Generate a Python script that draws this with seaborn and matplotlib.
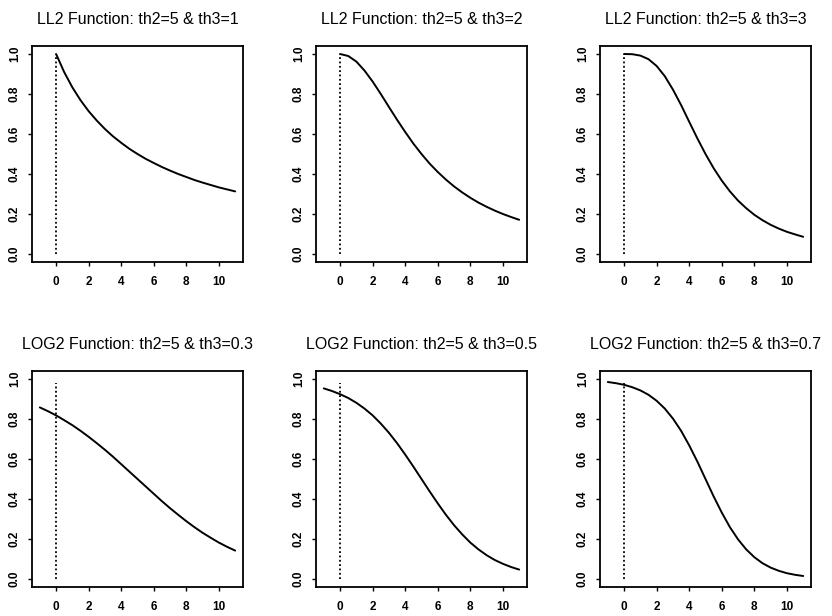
import matplotlib
matplotlib.use("Agg")
import matplotlib.pyplot as plt
import seaborn as sns

# x grids
x_ll2 = [0, 0.5, 1, 1.5, 2, 2.5, 3, 3.5, 4, 4.5, 5, 5.5, 6, 6.5, 7, 7.5,
         8, 8.5, 9, 9.5, 10, 10.5, 11]
x_log2 = [-1, -0.5] + x_ll2

# LL2 curves (th2=5)
ll2_th3_1 = [1.000, 0.909, 0.833, 0.769, 0.714, 0.667, 0.625, 0.588, 0.556,
             0.526, 0.500, 0.476, 0.455, 0.435, 0.417, 0.400, 0.385, 0.370,
             0.357, 0.345, 0.333, 0.323, 0.313]
ll2_th3_2 = [1.000, 0.990, 0.962, 0.917, 0.862, 0.800, 0.735, 0.671, 0.610,
             0.552, 0.500, 0.452, 0.410, 0.372, 0.338, 0.308, 0.281, 0.257,
             0.236, 0.217, 0.200, 0.185, 0.171]
ll2_th3_3 = [1.000, 0.999, 0.992, 0.974, 0.940, 0.889, 0.822, 0.745, 0.661,
             0.578, 0.500, 0.429, 0.367, 0.313, 0.267, 0.229, 0.196, 0.169,
             0.146, 0.127, 0.111, 0.098, 0.086]

# LOG2 curves (th2=5)
log2_th3_03 = [0.858, 0.839, 0.818, 0.794, 0.769, 0.741, 0.711, 0.679, 0.646,
               0.611, 0.574, 0.537, 0.500, 0.463, 0.426, 0.389, 0.354, 0.321,
               0.289, 0.259, 0.231, 0.206, 0.182, 0.161, 0.142]
log2_th3_05 = [0.953, 0.940, 0.924, 0.905, 0.881, 0.852, 0.818, 0.777, 0.731,
               0.679, 0.622, 0.562, 0.500, 0.438, 0.378, 0.321, 0.269, 0.223,
               0.182, 0.148, 0.119, 0.095, 0.076, 0.060, 0.047]
log2_th3_07 = [0.985, 0.979, 0.971, 0.959, 0.943, 0.921, 0.891, 0.852, 0.802,
               0.741, 0.668, 0.587, 0.500, 0.413, 0.332, 0.259, 0.198, 0.148,
               0.109, 0.079, 0.057, 0.041, 0.029, 0.021, 0.015]

titles = ["LL2 Function: th2=5 & th3=1", "LL2 Function: th2=5 & th3=2",
          "LL2 Function: th2=5 & th3=3", "LOG2 Function: th2=5 & th3=0.3",
          "LOG2 Function: th2=5 & th3=0.5", "LOG2 Function: th2=5 & th3=0.7"]
xs = [x_ll2, x_ll2, x_ll2, x_log2, x_log2, x_log2]
ys = [ll2_th3_1, ll2_th3_2, ll2_th3_3, log2_th3_03, log2_th3_05, log2_th3_07]
ref_top = [1.0, 1.0, 1.0, 0.98, 0.98, 0.98]

x_ticks = [0, 2, 4, 6, 8, 10]
y_ticks = [0.0, 0.2, 0.4, 0.6, 0.8, 1.0]

sns.set_style("white")
plt.rcParams["font.family"] = ["Liberation Sans", "DejaVu Sans"]
plt.rcParams["text.color"] = "black"

W, H = 832, 616
fig = plt.figure(figsize=(W / 100, H / 100), dpi=100)

lefts = [32, 316, 600]
tops = [46, 371]
bw, bh = 211, 216

for i in range(6):
    r, c = divmod(i, 3)
    ax = fig.add_axes([lefts[c] / W, 1 - (tops[r] + bh) / H, bw / W, bh / H])
    sns.lineplot(x=xs[i], y=ys[i], ax=ax, color="black", linewidth=1.4)
    ax.plot([0, 0], [0, ref_top[i]], color="black", linewidth=1.3,
            dashes=(1, 1.4))
    ax.set_xlim(-1.48, 11.48)
    ax.set_ylim(-0.04, 1.04)
    ax.set_xticks(x_ticks)
    ax.set_xticklabels([str(t) for t in x_ticks], fontweight="bold")
    ax.set_yticks(y_ticks)
    ax.set_yticklabels([f"{t:.1f}" for t in y_ticks], rotation=90,
                       va="center", fontweight="bold")
    ax.tick_params(axis="both", direction="out", length=3, width=1,
                   color="black", labelcolor="black", labelsize=8.5,
                   left=True, bottom=True)
    ax.tick_params(axis="x", pad=7)
    ax.tick_params(axis="y", pad=5)
    for s in ax.spines.values():
        s.set_visible(True)
        s.set_color("black")
        s.set_linewidth(1.3)
    ax.set_title(titles[i], fontsize=11.5, pad=16, color="black")

fig.savefig("out.png", dpi=100)
